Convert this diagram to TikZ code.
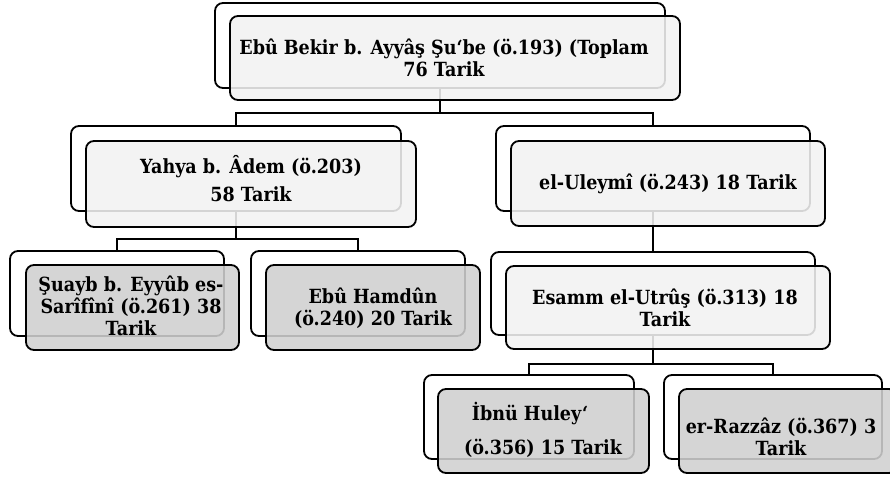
\documentclass[tikz,border=0pt]{standalone}
\usepackage{fontspec}
\setmainfont{DejaVu Serif Condensed}
\usetikzlibrary{backgrounds}
\definecolor{lightgrayfill}{RGB}{242,242,242}
\definecolor{leafgray}{RGB}{208,208,208}
\begin{document}
\begin{tikzpicture}[x=1pt,y=-1pt,
  backbox/.style={draw=black, line width=1.8pt, fill=white, rounded corners=8pt, inner sep=0pt},
  frontbox/.style={draw=black, line width=1.8pt, fill=lightgrayfill, fill opacity=0.88, rounded corners=8pt, inner sep=0pt},
  leafbox/.style={frontbox, fill=leafgray},
  lbl/.style={font=\fontsize{19.5}{22}\selectfont\bfseries, align=center, inner sep=0pt, text=black},
  conn/.style={draw=black, line width=1.8pt}
]
\useasboundingbox (0,0) rectangle (890,480);

% back boxes
\node[backbox, minimum width=450pt, minimum height=85pt] (topB) at (440,45.5) {};
\node[backbox, minimum width=330pt, minimum height=85pt] (yahB) at (236,168.5) {};
\node[backbox, minimum width=314pt, minimum height=85pt] (uleB) at (653,168.5) {};
\node[backbox, minimum width=214pt, minimum height=85pt] (suB) at (117,293.5) {};
\node[backbox, minimum width=214pt, minimum height=85pt] (ebuB) at (358,293.5) {};
\node[backbox, minimum width=324pt, minimum height=83pt] (esB) at (653,293.5) {};
\node[backbox, minimum width=210pt, minimum height=84pt] (ibnB) at (529,417) {};
\node[backbox, minimum width=218pt, minimum height=84pt] (razB) at (773,417) {};

% connectors
\coordinate (bus1) at (440,113);
\coordinate (bus2) at (236,239);
\coordinate (bus3) at (653,364);
\begin{scope}[on background layer]
\draw[conn] (topB.south) -- (bus1);
\draw[conn] (yahB.north) |- (bus1) -| (uleB.north);
\draw[conn] (yahB.south) -- (bus2);
\draw[conn] (suB.north) |- (bus2) -| (ebuB.north);
\draw[conn] (uleB.south) -- (esB.north);
\draw[conn] (esB.south) -- (bus3);
\draw[conn] (ibnB.north) |- (bus3) -| (razB.north);
\end{scope}

% front boxes
\node[frontbox, minimum width=450pt, minimum height=84pt] (topF) at (455,58) {};
\node[frontbox, minimum width=330pt, minimum height=86pt] (yahF) at (251,184) {};
\node[frontbox, minimum width=314pt, minimum height=85pt] (uleF) at (668,183.5) {};
\node[leafbox, minimum width=213pt, minimum height=85pt] (suF) at (132.5,307.5) {};
\node[leafbox, minimum width=214pt, minimum height=85pt] (ebuF) at (373,307.5) {};
\node[frontbox, minimum width=324pt, minimum height=83pt] (esF) at (668,307.5) {};
\node[leafbox, minimum width=211pt, minimum height=84pt] (ibnF) at (543.5,431) {};
\node[leafbox, minimum width=218pt, minimum height=84pt] (razF) at (788,431) {};

% texts
\node[lbl] (topT) at (444,58) {Ebû Bekir b. Ayyâş Şu‘be (ö.193) (Toplam\\76 Tarik};
\node[lbl] (yahT) at (251,179) {Yahya b. Âdem (ö.203)\\[6pt]58 Tarik};
\node[lbl] (uleT) at (668,184) {el-Uleymî (ö.243) 18 Tarik};
\node[lbl] (suT) at (131,306) {Şuayb b. Eyyûb es-\\Sarîfînî (ö.261) 38\\Tarik};
\node[lbl] (ebuT) at (373,308.5) {Ebû Hamdûn\\(ö.240) 20 Tarik};
\node[lbl] (esT) at (665,307.5) {Esamm el-Utrûş (ö.313) 18\\Tarik};
\node[lbl] (ibnT) at (543,430) {\hspace*{-26pt}İbnü Huley‘\\[12pt](ö.356) 15 Tarik};
\node[lbl] (razT) at (781,437) {er-Razzâz (ö.367) 3\\Tarik};
\end{tikzpicture}
\end{document}
